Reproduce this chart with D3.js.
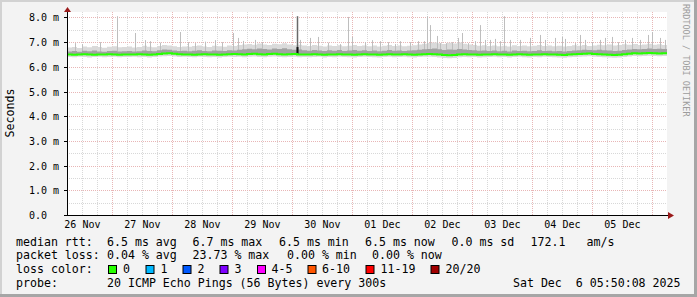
<!DOCTYPE html>
<html>
<head>
<meta charset="utf-8">
<script src="https://cdn.jsdelivr.net/npm/d3@7"></script>
<style>
html, body { margin: 0; padding: 0; background: #f3f3f3; }
svg { display: block; }
text { font-family: "DejaVu Sans Mono", monospace; fill: #000; white-space: pre; }
</style>
</head>
<body>
<svg id="chart" width="697" height="297"></svg>
<script>
// 10 days ending at the graph timestamp, values in ms, one value per 2 hours
const endTime = Date.UTC(2025, 11, 6, 5, 50, 8)
const startTime = endTime - 10 * 24 * 3600 * 1000
const bucketHours = 2

const medianRtt = [
  6.50,6.49,6.50,6.51,6.50,6.49,6.50,6.50,6.51,6.50,6.49,6.50,
  6.50,6.50,6.51,6.50,6.49,6.50,6.52,6.54,6.55,6.53,6.51,6.50,
  6.50,6.49,6.50,6.51,6.50,6.50,6.49,6.50,6.51,6.52,6.51,6.50,
  6.52,6.53,6.51,6.50,6.52,6.53,6.51,6.50,6.51,6.52,6.50,6.50,
  6.50,6.51,6.50,6.49,6.50,6.50,6.51,6.50,6.50,6.49,6.50,6.51,
  6.50,6.50,6.49,6.50,6.51,6.50,6.50,6.51,6.50,6.49,6.50,6.51,
  6.52,6.51,6.50,6.48,6.47,6.48,6.50,6.51,6.50,6.50,6.49,6.50,
  6.50,6.51,6.50,6.50,6.49,6.50,6.51,6.50,6.49,6.50,6.50,6.51,
  6.50,6.50,6.49,6.48,6.50,6.51,6.52,6.53,6.54,6.52,6.51,6.50,
  6.49,6.48,6.49,6.51,6.53,6.55,6.54,6.55,6.56,6.55,6.54,6.55
]
const smokeHigh = [
  6.78,6.80,6.76,6.82,6.79,6.84,6.80,6.77,6.81,6.83,6.79,6.80,
  6.82,6.78,6.80,6.85,6.81,6.79,6.84,6.88,6.86,6.83,6.80,6.82,
  6.81,6.84,6.86,6.82,6.80,6.85,6.83,6.81,6.86,6.84,6.88,6.90,
  6.92,6.89,6.94,6.90,6.88,6.93,6.91,6.95,6.90,6.87,6.89,6.86,
  6.84,6.88,6.85,6.82,6.86,6.84,6.87,6.83,6.85,6.88,6.84,6.86,
  6.83,6.86,6.82,6.85,6.88,6.84,6.86,6.83,6.85,6.87,6.90,6.93,
  6.96,6.98,6.95,6.92,6.97,6.94,6.99,6.93,6.90,6.88,6.85,6.87,
  6.84,6.86,6.83,6.85,6.82,6.87,6.84,6.86,6.83,6.85,6.88,6.84,
  6.86,6.83,6.85,6.82,6.84,6.87,6.85,6.88,6.84,6.86,6.89,6.87,
  6.90,6.86,6.88,6.91,6.89,6.92,6.88,6.90,6.93,6.89,6.91,6.88
]
const smokeMid = [
  6.62,6.64,6.61,6.65,6.63,6.66,6.62,6.61,6.64,6.65,6.62,6.63,
  6.64,6.62,6.63,6.66,6.64,6.63,6.67,6.70,6.69,6.66,6.64,6.65,
  6.63,6.65,6.67,6.64,6.63,6.66,6.65,6.64,6.67,6.66,6.69,6.71,
  6.73,6.71,6.74,6.72,6.70,6.74,6.72,6.75,6.71,6.69,6.70,6.67,
  6.65,6.68,6.66,6.64,6.67,6.65,6.68,6.64,6.66,6.68,6.65,6.67,
  6.64,6.66,6.63,6.65,6.68,6.65,6.66,6.64,6.66,6.67,6.69,6.71,
  6.72,6.74,6.71,6.68,6.70,6.69,6.72,6.70,6.68,6.67,6.65,6.66,
  6.64,6.66,6.63,6.65,6.62,6.66,6.64,6.65,6.63,6.64,6.67,6.64,
  6.65,6.63,6.64,6.62,6.64,6.66,6.67,6.69,6.68,6.67,6.69,6.67,
  6.66,6.64,6.65,6.68,6.70,6.72,6.71,6.72,6.74,6.72,6.73,6.72
]
const smokeLow = [
  6.40,6.39,6.41,6.40,6.38,6.40,6.41,6.39,6.40,6.41,6.39,6.40,
  6.40,6.41,6.39,6.40,6.38,6.40,6.42,6.43,6.44,6.42,6.40,6.41,
  6.40,6.39,6.41,6.40,6.39,6.40,6.38,6.40,6.41,6.40,6.41,6.39,
  6.41,6.42,6.40,6.39,6.41,6.42,6.40,6.39,6.40,6.41,6.39,6.40,
  6.39,6.40,6.41,6.38,6.40,6.39,6.41,6.40,6.39,6.38,6.40,6.41,
  6.40,6.39,6.38,6.40,6.41,6.39,6.40,6.41,6.39,6.38,6.40,6.41,
  6.41,6.40,6.38,6.36,6.35,6.36,6.39,6.40,6.39,6.40,6.38,6.39,
  6.40,6.41,6.39,6.40,6.38,6.40,6.41,6.39,6.38,6.40,6.39,6.41,
  6.40,6.39,6.38,6.37,6.39,6.40,6.41,6.42,6.43,6.41,6.40,6.39,
  6.38,6.37,6.38,6.40,6.42,6.44,6.43,6.44,6.45,6.44,6.43,6.44
]
// single ping outliers: [hours after start, ms]
const spikes = [
  [3.2,6.96],[6.0,6.92],[13.2,7.0],[20.0,8.05],[27.2,7.37],[31.2,7.08],[33.2,7.04],
  [37.2,6.98],[45.2,7.41],[48.4,7.0],[51.2,6.96],[55.2,7.02],[59.2,7.08],[62.0,7.0],
  [66.4,7.37],[68.4,7.17],[70.4,7.05],[75.2,7.09],[78.0,7.0],[93.2,7.09],[97.2,7.17],
  [100.4,7.21],[104.4,6.98],[109.2,6.92],[112.4,8.02],[114.0,7.21],[119.2,7.0],
  [122.0,7.08],[125.2,7.04],[128.4,7.0],[131.2,6.92],[133.2,7.04],[137.2,7.0],
  [140.4,7.04],[142.8,7.04],[144.0,8.05],[145.2,7.69],[148.0,7.25],[149.2,6.96],
  [151.6,6.96],[154.0,7.0],[156.4,7.17],[158.0,7.37],[160.4,6.96],[163.2,7.04],
  [165.2,7.69],[167.2,7.09],[169.2,7.09],[171.2,7.13],[173.2,7.04],[174.8,8.05],
  [177.2,7.09],[181.2,7.09],[185.2,7.17],[189.2,7.29],[191.2,7.09],[195.2,7.17],
  [198.0,7.21],[199.2,7.13],[203.2,6.96],[205.2,7.29],[207.2,7.09],[210.0,7.0],
  [213.2,7.09],[215.2,7.17],[218.0,7.21],[220.4,7.0],[223.2,7.09],[226.0,7.17],
  [229.2,7.09],[232.4,7.29],[234.0,7.41],[237.2,7.17],[239.2,7.09]
]
const darkSpikes = [[92.0, 8.05]]

const yTicks = [0, 1, 2, 3, 4, 5, 6, 7, 8]
const legendRtt = [
  ['median rtt:', 16], ['6.5 ms avg', 107], ['6.7 ms max', 192.5], ['6.5 ms min', 279],
  ['6.5 ms now', 365], ['0.0 ms sd', 451.5], ['172.1', 530.5], ['am/s', 586.5]
]
const legendLoss = [
  ['packet loss:', 16], ['0.04 % avg', 107], ['23.73 % max', 192.5], ['0.00 % min', 287], ['0.00 % now', 372]
]
const lossColors = [
  ['0', '#26ff00', 108, 123], ['1', '#00b8ff', 145.5, 160.5], ['2', '#0059ff', 182.5, 197.5],
  ['3', '#7e00ff', 219.5, 234.5], ['4-5', '#ff00ff', 257, 271.5], ['6-10', '#ff5500', 307.5, 322],
  ['11-19', '#ff0000', 365.5, 380.5], ['20/20', '#a10000', 430.5, 445.5]
]

const svg = d3.select('#chart')
const hourDate = (h) => new Date(startTime + h * 3600 * 1000)

let x = d3.scaleUtc().domain([new Date(startTime), new Date(endTime)]).range([67, 667])
let y = d3.scaleLinear().domain([0, 8.22]).range([215, 12])

// background + frame
svg.append('rect').attr('width', 697).attr('height', 297).attr('fill', '#f3f3f3')
svg.append('rect').attr('x', 0).attr('y', 0).attr('width', 697).attr('height', 2).attr('fill', '#d2d2d2')
svg.append('rect').attr('x', 0).attr('y', 0).attr('width', 2).attr('height', 297).attr('fill', '#d2d2d2')
svg.append('rect').attr('x', 0).attr('y', 294).attr('width', 697).attr('height', 3).attr('fill', '#a6a6a6')
svg.append('rect').attr('x', 694).attr('y', 0).attr('width', 3).attr('height', 297).attr('fill', '#a6a6a6')

svg.append('rect').attr('x', 67).attr('y', 12).attr('width', 600).attr('height', 203).attr('fill', '#ffffff')

// grid
let grid = svg.append('g')
let minorX = d3.utcHour.every(6).range(new Date(startTime), new Date(endTime)).filter(d => d.getUTCHours() !== 0)
let majorX = d3.utcDay.range(new Date(startTime), new Date(endTime))
minorX.forEach(d => {
  let px = Math.round(x(d)) + 0.5
  grid.append('line').attr('x1', px).attr('x2', px).attr('y1', 12).attr('y2', 215)
    .attr('stroke', '#d8d8d8').attr('stroke-dasharray', '1,1')
})
d3.range(0.5, 8.2, 1).forEach(v => {
  let py = Math.round(y(v)) + 0.5
  grid.append('line').attr('x1', 67).attr('x2', 667).attr('y1', py).attr('y2', py)
    .attr('stroke', '#d8d8d8').attr('stroke-dasharray', '1,1')
})
majorX.forEach(d => {
  let px = Math.round(x(d)) + 0.5
  grid.append('line').attr('x1', px).attr('x2', px).attr('y1', 12).attr('y2', 215)
    .attr('stroke', '#e8b6b6').attr('stroke-dasharray', '1,1')
})
yTicks.filter(v => v > 0).forEach(v => {
  let py = Math.round(y(v)) + 0.5
  grid.append('line').attr('x1', 67).attr('x2', 667).attr('y1', py).attr('y2', py)
    .attr('stroke', '#e8b6b6').attr('stroke-dasharray', '1,1')
})

// smoke
let bucketDate = (i) => hourDate(i * bucketHours)
let rows = medianRtt.map((m, i) => ({ i, m, lo: smokeLow[i], mid: smokeMid[i], hi: smokeHigh[i] }))
rows.push({ ...rows[rows.length - 1], i: rows.length })

let lightArea = d3.area().curve(d3.curveStepAfter)
  .x(d => x(bucketDate(d.i))).y0(d => y(d.lo)).y1(d => y(d.hi))
let darkArea = d3.area().curve(d3.curveStepAfter)
  .x(d => x(bucketDate(d.i))).y0(d => y(d.m)).y1(d => y(d.mid))

svg.append('path').attr('d', lightArea(rows)).attr('fill', '#dadada')

spikes.forEach(([h, v]) => {
  let px = Math.round(x(hourDate(h))) + 0.5
  let base = medianRtt[Math.min(119, Math.floor(h / bucketHours))]
  svg.append('line').attr('x1', px).attr('x2', px).attr('y1', y(base)).attr('y2', y(v))
    .attr('stroke', '#bebebe').attr('stroke-width', 1)
})

svg.append('path').attr('d', darkArea(rows)).attr('fill', '#a2a2a2')

darkSpikes.forEach(([h, v]) => {
  let px = Math.round(x(hourDate(h))) + 0.5
  let base = medianRtt[Math.floor(h / bucketHours)]
  svg.append('line').attr('x1', px).attr('x2', px).attr('y1', y(base)).attr('y2', y(v))
    .attr('stroke', '#6a6a6a').attr('stroke-width', 1.5)
  svg.append('line').attr('x1', px).attr('x2', px).attr('y1', y(base)).attr('y2', y(base + 0.3))
    .attr('stroke', '#111').attr('stroke-width', 2)
})

let medLine = d3.line().curve(d3.curveStepAfter)
  .x(d => x(bucketDate(d.i))).y(d => y(d.m))
svg.append('path').attr('d', medLine(rows)).attr('fill', 'none')
  .attr('stroke', '#26ff00').attr('stroke-width', 2)

// axes
svg.append('line').attr('x1', 67.5).attr('x2', 67.5).attr('y1', 215).attr('y2', 10).attr('stroke', '#000')
svg.append('line').attr('x1', 64).attr('x2', 669).attr('y1', 215.5).attr('y2', 215.5).attr('stroke', '#000')
svg.append('path').attr('d', 'M64,12L71,12L67.5,7Z').attr('fill', '#9a1a1a')
svg.append('path').attr('d', 'M668,212L668,219L674,215.5Z').attr('fill', '#9a1a1a')

yTicks.forEach(v => {
  let py = Math.round(y(v)) + 0.5
  svg.append('line').attr('x1', 64).attr('x2', 67).attr('y1', py).attr('y2', py).attr('stroke', '#000')
  svg.append('text').attr('x', 29).attr('y', py + 3.5).attr('font-size', '10px')
    .text(v === 0 ? '0.0' : d3.format('.1f')(v) + ' m')
})

let labelFmt = d3.utcFormat('%d %b')
majorX.concat([d3.utcDay.offset(majorX[0], -1)]).forEach(d => {
  let noon = d3.utcHour.offset(d, 12)
  if (noon < new Date(startTime) || noon > new Date(endTime)) return
  svg.append('text').attr('x', x(noon)).attr('y', 228).attr('font-size', '10px')
    .attr('text-anchor', 'middle').text(labelFmt(noon))
})

svg.append('text').attr('transform', 'translate(14,113) rotate(-90)')
  .attr('font-size', '11.6px').attr('text-anchor', 'middle').text('Seconds')

svg.append('text').attr('transform', 'translate(683,4) rotate(90)')
  .attr('font-size', '8.5px').style('fill', '#9c9c9c').text('RRDTOOL / TOBI OETIKER')

// legend
let legend = svg.append('g').attr('font-size', '11.6px')
legendRtt.forEach(([t, px]) => legend.append('text').attr('x', px).attr('y', 245.5).text(t))
legendLoss.forEach(([t, px]) => legend.append('text').attr('x', px).attr('y', 259.3).text(t))
legend.append('text').attr('x', 16).attr('y', 273).text('loss color:')
lossColors.forEach(([t, c, bx, tx]) => {
  legend.append('rect').attr('x', bx + 0.5).attr('y', 265.5).attr('width', 8).attr('height', 8)
    .attr('fill', c).attr('stroke', '#000')
  legend.append('text').attr('x', tx).attr('y', 273).text(t)
})
legend.append('text').attr('x', 16).attr('y', 287).text('probe:')
legend.append('text').attr('x', 107).attr('y', 287).text('20 ICMP Echo Pings (56 Bytes) every 300s')
legend.append('text').attr('x', 680.5).attr('y', 287).attr('text-anchor', 'end').text('Sat Dec  6 05:50:08 2025')
</script>
</body>
</html>
